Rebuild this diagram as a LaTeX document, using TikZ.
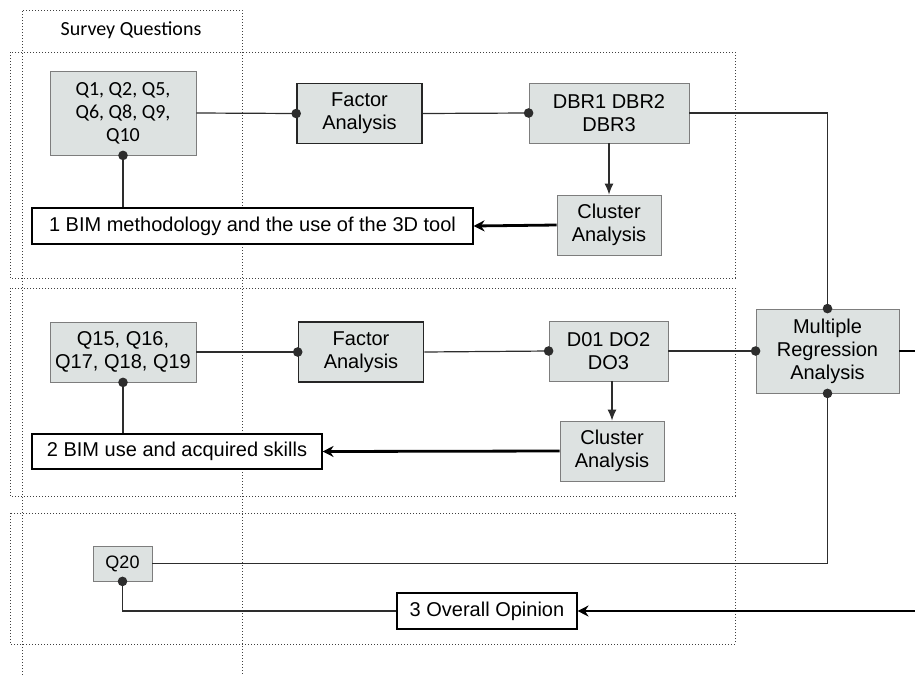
\documentclass[tikz,border=0pt]{standalone}
\usepackage{fontspec}
\setmainfont{Liberation Sans}
\newfontfamily\calibri{Carlito}
\usetikzlibrary{arrows,arrows.meta}
\definecolor{boxgray}{RGB}{221,226,225}
\definecolor{edgegray}{RGB}{125,125,125}
\definecolor{linegray}{RGB}{45,45,45}

\begin{document}
\begin{tikzpicture}[x=1pt,y=-1pt]
\tikzstyle{every node}=[inner sep=0pt, align=center, font=\fontsize{20}{23}\selectfont]
\tikzstyle{qbox}=[draw=edgegray, fill=boxgray, line width=.8pt]
\tikzstyle{fbox}=[draw=black!85, fill=boxgray, line width=1.6pt]
\tikzstyle{lbox}=[draw=black, fill=white, line width=1.1pt]
\tikzstyle{frame}=[dotted, line width=1pt, black!75]
\tikzstyle{link}=[linegray, line width=1.2pt]
\tikzstyle{dot}=[link, -{Circle[length=9.5pt]}, shorten >=-4.75pt]
\tikzstyle{dotstart}=[link, {Circle[length=9.5pt]}-, shorten <=-4.75pt]
\tikzstyle{tip}=[link, -{Latex[length=11pt,width=9pt]}]
\tikzstyle{bold}=[black, line width=2.8pt]
\tikzstyle{boldtip}=[bold, -{Stealth[length=11pt,width=11pt]}]
\useasboundingbox (0,0) rectangle (915,675);
% frames
\draw[frame] (22,675) |- (242,10) -- (242,675);
\draw[frame] (10,52) rectangle (735,278);
\draw[frame] (10,288) rectangle (735,496);
\draw[frame] (10,513) rectangle (735,644);
\draw (131,30) node (survey) {\calibri\fontsize{20}{22}\selectfont Survey Questions};
% group 1
\draw (123,113) node (q1) [qbox, minimum width=146pt, minimum height=84pt] {\calibri Q1, Q2, Q5,\\\calibri Q6, Q8, Q9,\\\calibri Q10};
\draw (359.5,113.5) node (fa1) [fbox, minimum width=125pt, minimum height=60pt] {Factor\\Analysis};
\draw (609,113) node (dbr) [qbox, minimum width=160pt, minimum height=60pt] {DBR1 DBR2\\DBR3};
\draw (609,225) node (cl1) [qbox, minimum width=104pt, minimum height=60pt] {Cluster\\Analysis};
\draw (252.5,226) node (lab1) [lbox, minimum width=441pt, minimum height=36pt] {1 BIM methodology and the use of the 3D tool};
% group 2
\draw (123,352) node (q15) [qbox, minimum width=146pt, minimum height=60pt] {Q15, Q16,\\Q17, Q18, Q19};
\draw (361,352) node (fa2) [fbox, minimum width=125pt, minimum height=60pt] {Factor\\Analysis};
\draw (608.5,351) node (do) [qbox, minimum width=119pt, minimum height=60pt] {D01 DO2\\DO3};
\draw (612,451) node (cl2) [qbox, minimum width=104pt, minimum height=60pt] {Cluster\\Analysis};
\draw (177,451.5) node (lab2) [lbox, minimum width=290pt, minimum height=35pt] {2 BIM use and acquired skills};
\draw (827.5,351) node (mra) [qbox, minimum width=143pt, minimum height=84pt] {Multiple\\Regression\\Analysis};
% group 3
\draw (122.5,563.5) node (q20) [qbox, minimum width=59pt, minimum height=35pt] {\fontsize{18}{20}\selectfont Q20};
\draw (487,611) node (lab3) [lbox, minimum width=180pt, minimum height=36pt] {3 Overall Opinion};
\coordinate (mraout) at (915,351);
\coordinate (opin) at (915,611);
% connectors
\draw[dot] (q1.east) -- (fa1.west);
\draw[dot] (fa1.east) -- (dbr.west);
\draw[tip] (dbr) -- (cl1);
\draw[boldtip] (cl1.west) -- (lab1.east);
\draw[dotstart] (q1.south) -- (q1.south |- lab1.north);
\draw[dot] (dbr.east) -| (mra.north);
\draw[dot] (q15.east) -- (fa2.west);
\draw[dot] (fa2.east) -- (do.west);
\draw[tip] (cl2.north |- do.south) -- (cl2.north);
\draw[boldtip] (cl2.west) -- (lab2.east);
\draw[dotstart] (q15.south) -- (q15.south |- lab2.north);
\draw[dot] (do.east) -- (mra.west);
\draw[dotstart] (mra.south) |- (q20.east);
\draw[bold] (mra.east) -- (mraout);
\draw[boldtip] (opin) -- (lab3.east);
\draw[dotstart] (q20.south) |- (lab3.west);
\end{tikzpicture}
\end{document}
